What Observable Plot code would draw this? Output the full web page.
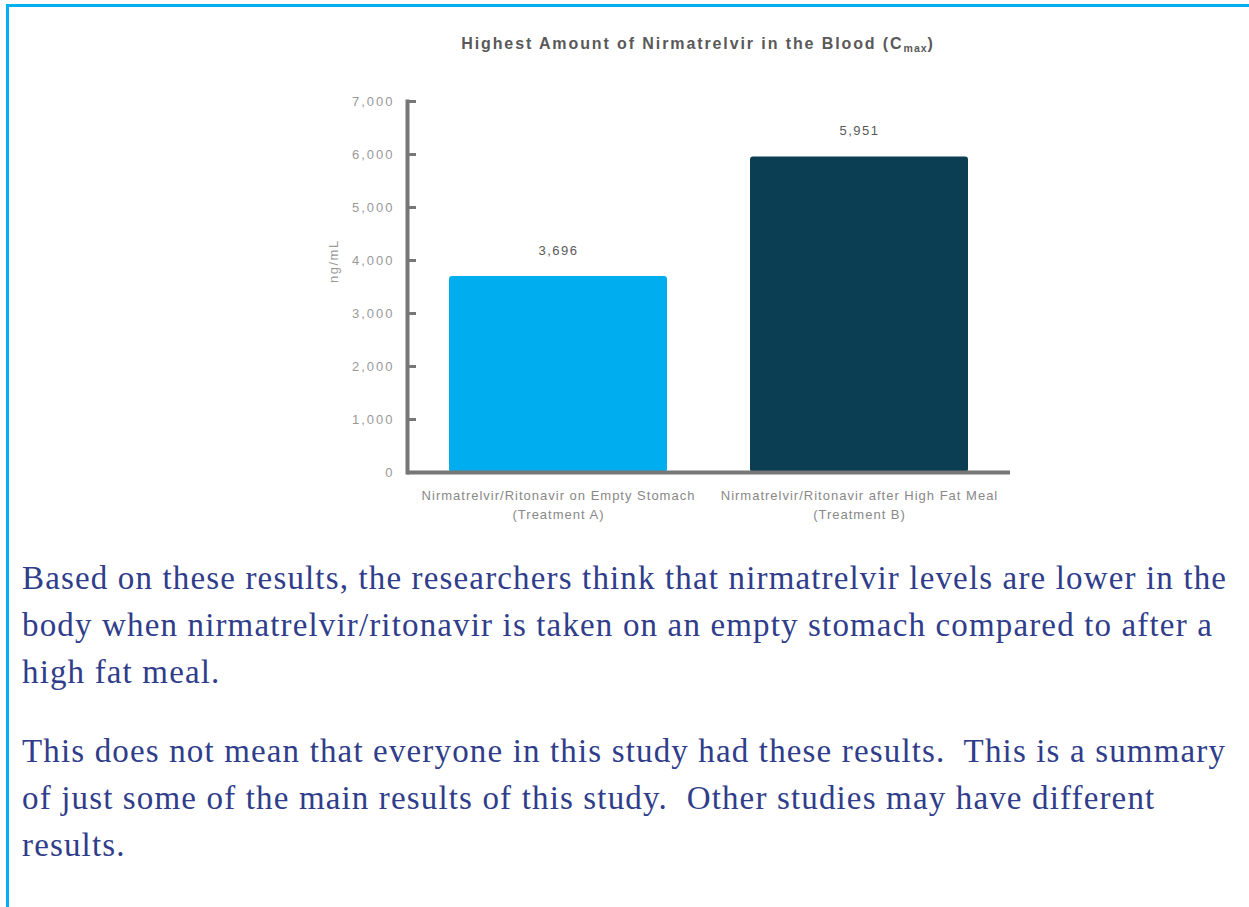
<!DOCTYPE html>
<html>
<head>
<meta charset="utf-8">
<script src="https://cdn.jsdelivr.net/npm/d3@7"></script>
<script src="https://cdn.jsdelivr.net/npm/@observablehq/plot@0.6"></script>
<style>
  html, body { margin: 0; padding: 0; background: #fff; }
  #page { position: relative; width: 1249px; height: 907px; overflow: hidden; }
  #topbar { position: absolute; left: 6px; top: 4px; width: 1243px; height: 3px; background: #00B0F0; }
  #leftbar { position: absolute; left: 6px; top: 4px; width: 3px; height: 903px; background: #00B0F0; }
  #title { position: absolute; top: 35px; left: 398px; width: 600px; text-align: center;
           font-family: "Liberation Sans", Arial, sans-serif; font-weight: bold; font-size: 16px;
           letter-spacing: 1.9px; color: #595959; }
  #title sub { font-size: 10.5px; vertical-align: -3px; letter-spacing: 1px; }
  #chart { position: absolute; left: 0; top: 0; }
  #chart g[aria-label="x-axis tick label"] text { letter-spacing: 1px; }
  #chart g[aria-label="y-axis tick label"] text { letter-spacing: 2px; }
  #chart g[aria-label="text"] text { letter-spacing: 1.5px; }
  .para { position: absolute; left: 22px; width: 1225px; font-family: "Liberation Serif", "Times New Roman", serif;
          font-size: 33px; line-height: 47px; letter-spacing: 1.15px; color: #2F3D8A; white-space: nowrap; }
</style>
</head>
<body>
<div id="page">
  <div id="topbar"></div>
  <div id="leftbar"></div>
  <div id="chart"></div>
  <div id="title">Highest Amount of Nirmatrelvir in the Blood (C<sub>max</sub>)</div>
  <div class="para" id="p1" style="top:555px">Based on these results, the researchers think that nirmatrelvir levels are lower in the<br>body when nirmatrelvir/ritonavir is taken on an empty stomach compared to after a<br>high fat meal.</div>
  <div class="para" id="p2" style="top:728px">This does not mean that everyone in this study had these results.&nbsp; This is a summary<br>of just some of the main results of this study.&nbsp; Other studies may have different<br>results.</div>
</div>
<script>
const categories = ["Treatment A", "Treatment B"];
const categoryLabels = [
  "Nirmatrelvir/Ritonavir on Empty Stomach\n(Treatment A)",
  "Nirmatrelvir/Ritonavir after High Fat Meal\n(Treatment B)"
];
const cmaxValues = [3696, 5951];
const barColors = ["#00AEEF", "#0B3E52"];
const yTicks = [0, 1000, 2000, 3000, 4000, 5000, 6000, 7000];
const yLabel = "ng/mL";

const data = categories.map((c, i) => ({category: c, value: cmaxValues[i], color: barColors[i]}));
const labelOf = Object.fromEntries(categories.map((c, i) => [c, categoryLabels[i]]));

const chart = Plot.plot({
  width: 1249,
  height: 540,
  marginLeft: 407,
  marginRight: 239,
  marginTop: 101,
  marginBottom: 68,
  style: {fontFamily: "'Liberation Sans', Arial, sans-serif", background: "transparent"},
  x: {domain: categories, paddingInner: 0.276, paddingOuter: 0.138, axis: null},
  y: {domain: [0, 7000], axis: null},
  marks: [
    Plot.barY(data, {x: "category", y: "value", fill: "color", rx: 3}),
    Plot.ruleY([0], {stroke: "#777", strokeWidth: 4}),
    Plot.frame({anchor: "left", stroke: "#777", strokeWidth: 4}),
    Plot.axisY({ticks: yTicks, tickSize: 9, dx: 9, tickFormat: () => "", stroke: "#777", strokeWidth: 3, label: null}),
    Plot.axisY({ticks: yTicks, tickSize: 0, tickPadding: 13, tickFormat: d3.format(","), fill: "#999", fontSize: 13, label: null}),
    Plot.axisX({tickSize: 0, tickPadding: 14, tickFormat: d => labelOf[d], fill: "#888", fontSize: 13, lineHeight: 1.45, label: null}),
    Plot.text(data, {x: "category", y: "value", text: d => d3.format(",")(d.value), dy: -26, fill: "#595959", fontSize: 13}),
    Plot.text([yLabel], {frameAnchor: "left", rotate: -90, dx: -74, dy: -4, fill: "#999", fontSize: 13})
  ]
});
document.getElementById("chart").appendChild(chart);
</script>
</body>
</html>
